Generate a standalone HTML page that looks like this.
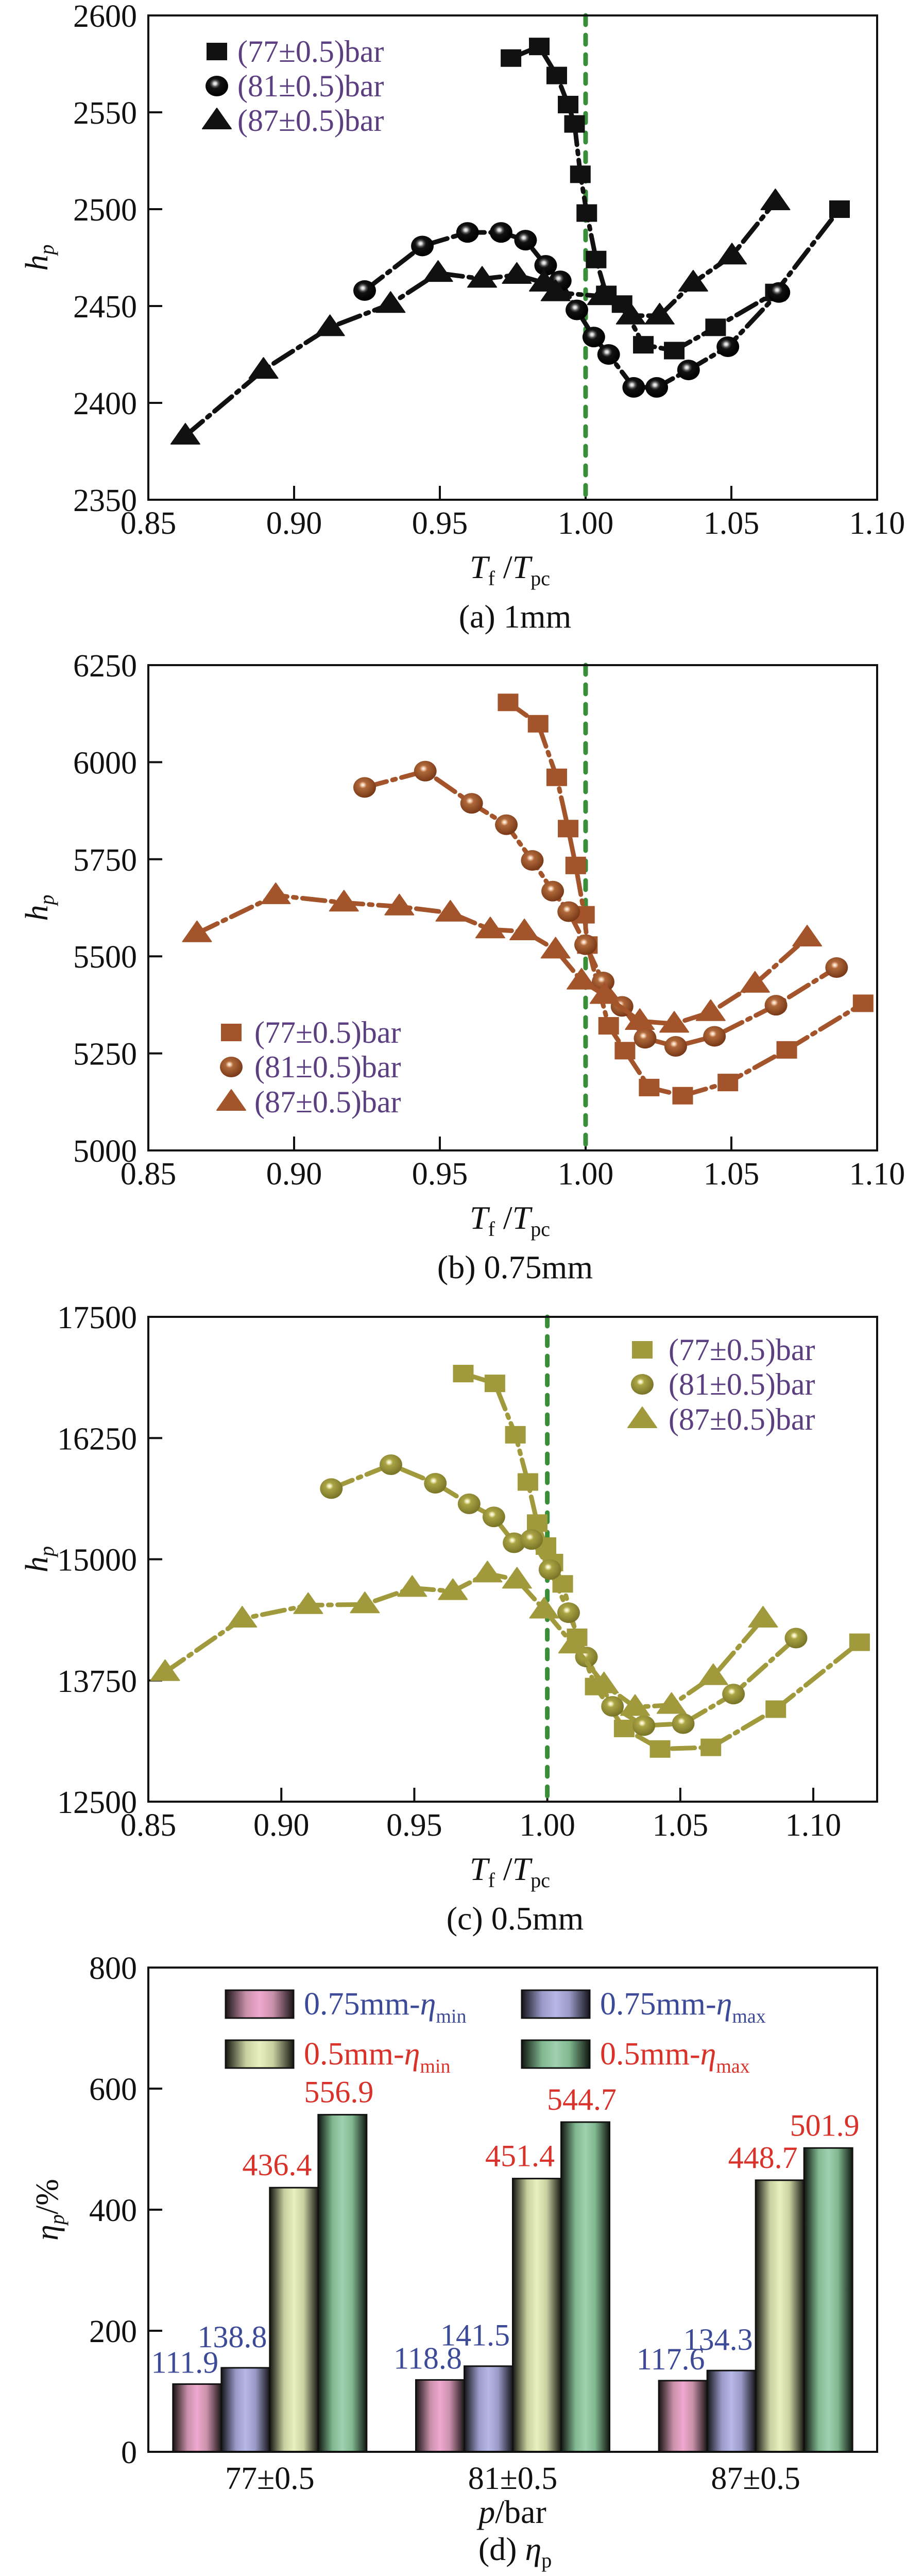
<!DOCTYPE html>
<html><head><meta charset="utf-8"><style>
html,body{margin:0;padding:0;background:#fff;width:1761px;height:5018px;overflow:hidden;}
svg{display:block;font-family:"Liberation Serif",serif;}
</style></head><body>
<svg id="fig" xmlns="http://www.w3.org/2000/svg" width="1761" height="5018" viewBox="0 0 1761 5018">
<defs>
<radialGradient id="ballK" cx="0.42" cy="0.38" r="0.6"><stop offset="0" stop-color="#fff"/><stop offset="0.12" stop-color="#ccc"/><stop offset="0.25" stop-color="#555"/><stop offset="0.4" stop-color="#111"/><stop offset="1" stop-color="#000"/></radialGradient>
<radialGradient id="ballB" cx="0.42" cy="0.38" r="0.6"><stop offset="0" stop-color="#fff"/><stop offset="0.12" stop-color="#f0c8a8"/><stop offset="0.28" stop-color="#b0683a"/><stop offset="1" stop-color="#7a3a18"/></radialGradient>
<radialGradient id="ballC" cx="0.42" cy="0.38" r="0.6"><stop offset="0" stop-color="#fff"/><stop offset="0.12" stop-color="#eee8b0"/><stop offset="0.28" stop-color="#aaa445"/><stop offset="1" stop-color="#7a7628"/></radialGradient>
<linearGradient id="gPink" x1="0" x2="1" y1="0" y2="0"><stop offset="0" stop-color="#1a1414"/><stop offset="0.3" stop-color="#c890aa"/><stop offset="0.5" stop-color="#f0a8d0"/><stop offset="0.7" stop-color="#c890aa"/><stop offset="1" stop-color="#1a1414"/></linearGradient>
<linearGradient id="gBlue" x1="0" x2="1" y1="0" y2="0"><stop offset="0" stop-color="#14141a"/><stop offset="0.3" stop-color="#9a9ac8"/><stop offset="0.5" stop-color="#b8b8e8"/><stop offset="0.7" stop-color="#9a9ac8"/><stop offset="1" stop-color="#14141a"/></linearGradient>
<linearGradient id="gYel" x1="0" x2="1" y1="0" y2="0"><stop offset="0" stop-color="#161610"/><stop offset="0.3" stop-color="#c8d0a0"/><stop offset="0.5" stop-color="#e8f0c0"/><stop offset="0.7" stop-color="#c8d0a0"/><stop offset="1" stop-color="#161610"/></linearGradient>
<linearGradient id="gGrn" x1="0" x2="1" y1="0" y2="0"><stop offset="0" stop-color="#101610"/><stop offset="0.3" stop-color="#80b890"/><stop offset="0.5" stop-color="#a0d0b0"/><stop offset="0.7" stop-color="#80b890"/><stop offset="1" stop-color="#101610"/></linearGradient>
</defs>
</svg>
<script>
// ---------- data: panel (a) 1mm ----------
const aX77 = [0.9744,0.9841,0.9901,0.9940,0.9962,0.9982,1.0004,1.0036,1.0071,1.0125,1.0198,1.0304,1.0446,1.0651,1.0871];
const aY77 = [2578,2584,2569,2554,2544,2518,2498,2474,2456,2451,2430,2427,2439,2457,2500];
const aX81 = [0.9242,0.9440,0.9595,0.9710,0.9794,0.9863,0.9913,0.9970,1.0028,1.0079,1.0165,1.0244,1.0353,1.0488,1.0663];
const aY81 = [2458,2481,2488,2488,2484,2471,2463,2448,2434,2425,2408,2408,2417,2429,2457];
const aX87 = [0.8627,0.8895,0.9123,0.9331,0.9494,0.9645,0.9764,0.9857,0.9897,1.0056,1.0155,1.0254,1.0369,1.0502,1.0651];
const aY87 = [2383,2417,2439,2451,2467,2464,2466,2462,2457,2455,2445,2445,2462,2476,2504];
// ---------- data: panel (b) 0.75mm ----------
const bX77 = [0.9734,0.9837,0.9901,0.9940,0.9966,0.9996,1.0006,1.0079,1.0135,1.0218,1.0333,1.0488,1.0690,1.0952];
const bY77 = [6154,6099,5961,5829,5734,5607,5529,5321,5257,5162,5141,5175,5259,5379];
const bX81 = [0.9242,0.9450,0.9609,0.9728,0.9817,0.9887,0.9942,1.0000,1.0060,1.0125,1.0204,1.0309,1.0442,1.0653,1.0861];
const bY81 = [5935,5977,5894,5839,5747,5668,5615,5530,5434,5371,5289,5268,5294,5374,5471];
const bX87 = [0.8667,0.8937,0.9171,0.9361,0.9536,0.9673,0.9790,0.9897,0.9986,1.0065,1.0186,1.0304,1.0429,1.0581,1.0760];
const bY87 = [5559,5657,5638,5628,5612,5569,5564,5517,5437,5400,5333,5326,5356,5429,5548];
// ---------- data: panel (c) 0.5mm ----------
const cX77 = [0.9684,0.9803,0.9880,0.9927,0.9962,0.9995,1.0021,1.0058,1.0112,1.0180,1.0289,1.0424,1.0615,1.0859,1.1174];
const cY77 = [16915,16814,16284,15797,15373,15136,14966,14746,14195,13687,13255,13043,13060,13454,14144];
const cX81 = [0.9188,0.9412,0.9579,0.9706,0.9799,0.9875,0.9941,1.0010,1.0080,1.0147,1.0245,1.0363,1.0511,1.0700,1.0935];
const cY81 = [15729,15975,15784,15572,15437,15170,15204,14894,14449,13992,13483,13284,13305,13610,14187];
const cX87 = [0.8563,0.8853,0.9101,0.9314,0.9492,0.9645,0.9775,0.9886,0.9988,1.0097,1.0213,1.0330,1.0467,1.0624,1.0811];
const cY87 = [13835,14386,14526,14534,14703,14670,14852,14788,14479,14119,13708,13475,13496,13793,14386];
const xTickLabels = ["0.85","0.90","0.95","1.00","1.05","1.10"];
const aYTicks = [2350,2400,2450,2500,2550,2600];
const bYTicks = [5000,5250,5500,5750,6000,6250];
const cYTicks = [12500,13750,15000,16250,17500];
const seriesNames = ["(77\u00b10.5)bar","(81\u00b10.5)bar","(87\u00b10.5)bar"];
// ---------- data: panel (d) efficiency ----------
const dCategories = ["77\u00b10.5","81\u00b10.5","87\u00b10.5"];
const dMin075 = [111.9,118.8,117.6];
const dMax075 = [138.8,141.5,134.3];
const dMin05 = [436.4,451.4,448.7];
const dMax05 = [556.9,544.7,501.9];
const dYTicks = [0,200,400,600,800];

const NS = "http://www.w3.org/2000/svg";
const svg = document.getElementById('fig');
function mk(tag, attrs, parent, text){
  const e = document.createElementNS(NS, tag);
  for (const k in attrs) e.setAttribute(k, attrs[k]);
  if (text !== undefined) e.textContent = text;
  (parent||svg).appendChild(e);
  return e;
}
const FS = 62;

function linePanel(cfg){
  const g = mk('g', {});
  
  
  const L=288,R=1703,T=cfg.top,B=cfg.bottom;
  const sx = v => L + (v-0.85)/(cfg.xmax-0.85)*(R-L);
  const sy = v => B - (v-cfg.ymin)/(cfg.ymax-cfg.ymin)*(B-T);
  xTickLabels.forEach(t=>{
    const x = sx(parseFloat(t));
    if (x>L+2 && x<R-2){ const tk=mk('line',{x1:x,x2:x,y1:B,y2:B-27,stroke:'#111','stroke-width':4},g);
        }
    const tl = mk('text',{x:x,y:B+66,'font-size':FS,'text-anchor':'middle',fill:'#111'},g,t);
     
  });
  cfg.yticks.forEach(v=>{
    const y = sy(v);
    if (y>T+2 && y<B-2){ const tk=mk('line',{x1:L,x2:L+27,y1:y,y2:y,stroke:'#111','stroke-width':4},g);
        }
    const tl = mk('text',{x:L-22,y:y+22,'font-size':FS,'text-anchor':'end',fill:'#111'},g,String(v));
     
  });
  const ref = mk('line',{x1:sx(1.0),x2:sx(1.0),y1:T,y2:B,stroke:'#3a8e3a','stroke-width':9,'stroke-dasharray':'18 20','stroke-linecap':'round'},g);
  
  
  const sets = [[cfg.x77,cfg.y77,'sq'],[cfg.x81,cfg.y81,'ci'],[cfg.x87,cfg.y87,'tr']];
  const drawMarker = (type,x,y,parent)=>{
    let m;
    if (type==='sq') m = mk('rect',{x:x-20,y:y-17,width:40,height:34,fill:cfg.color},parent);
    else if (type==='ci') m = mk('ellipse',{cx:x,cy:y,rx:22,ry:20,fill:cfg.ball},parent);
    else m = mk('polygon',{points:`${x},${y-24} ${x+28},${y+16} ${x-28},${y+16}`,fill:cfg.color,'stroke':cfg.color,'stroke-width':2,'stroke-linejoin':'round'},parent);
    return m;
  };
  sets.forEach((s,i)=>{
    const sg = mk('g',{},g);
    
    
    const pts = s[0].map((xv,j)=>sx(xv)+','+sy(s[1][j])).join(' ');
    const pl = mk('polyline',{points:pts,fill:'none',stroke:cfg.color,'stroke-width':9,'stroke-dasharray':'44 12 6 12','stroke-linecap':'round','stroke-linejoin':'round'},sg);
    
    
    s[0].forEach((xv,j)=>{
      const m = drawMarker(s[2],sx(xv),sy(s[1][j]),sg);
      
      
    });
  });
  const fr = mk('rect',{x:L,y:T,width:R-L,height:B-T,fill:'none',stroke:'#111','stroke-width':4},g);
  
  
  const lg = mk('g',{},g);
  
  
  ['sq','ci','tr'].forEach((t,i)=>{
    const y = cfg.leg.rows[i];
    const m = drawMarker(t,cfg.leg.mx,y,lg);
    
    
    const tx = mk('text',{x:cfg.leg.tx,y:y+20,'font-size':60,fill:'#5b3f80'},lg,seriesNames[i]);
    
    
  });
  const yl = mk('text',{x:0,y:0,'font-size':62,'font-style':'italic',fill:'#111',transform:`translate(92,${(T+B)/2}) rotate(-90)`,'text-anchor':'middle'},g);
  
  
  mk('tspan',{},yl,'h');
  mk('tspan',{'font-size':40,dy:12},yl,'p');
  const xl = mk('text',{x:990,y:B+152,'font-size':64,'text-anchor':'middle',fill:'#111'},g);
  
  
  mk('tspan',{'font-style':'italic'},xl,'T');
  mk('tspan',{'font-size':40,dy:14},xl,'f');
  mk('tspan',{dy:-14},xl,' /');
  mk('tspan',{'font-style':'italic'},xl,'T');
  mk('tspan',{'font-size':40,dy:14},xl,'pc');
  const cap = mk('text',{x:1000,y:B+248,'font-size':64,'text-anchor':'middle',fill:'#111'},g,cfg.caption);
  
  
}

linePanel({name:'panel-a-1mm',top:30,bottom:970,xmax:1.10,ymin:2350,ymax:2600,yticks:aYTicks,
  x77:aX77,y77:aY77,x81:aX81,y81:aY81,x87:aX87,y87:aY87,color:'#111',ball:'url(#ballK)',
  leg:{mx:421,tx:461,rows:[100,167,234]},caption:'(a) 1mm'});
linePanel({name:'panel-b-075mm',top:1291,bottom:2233,xmax:1.10,ymin:5000,ymax:6250,yticks:bYTicks,
  x77:bX77,y77:bY77,x81:bX81,y81:bY81,x87:bX87,y87:bY87,color:'#a4542a',ball:'url(#ballB)',
  leg:{mx:449,tx:494,rows:[2004,2071,2139]},caption:'(b) 0.75mm'});
linePanel({name:'panel-c-05mm',top:2556,bottom:3497,xmax:1.124,ymin:12500,ymax:17500,yticks:cYTicks,
  x77:cX77,y77:cY77,x81:cX81,y81:cY81,x87:cX87,y87:cY87,color:'#a09a3c',ball:'url(#ballC)',
  leg:{mx:1247,tx:1298,rows:[2620,2687,2755]},caption:'(c) 0.5mm'});

(function(){
  const g = mk('g',{});
  
  
  const L=288,R=1703,T=3819,B=4759;
  const sy = v => B - v/800*(B-T);
  const groupW = (R-L)/dCategories.length;
  const gx = i => L + groupW*(i+0.5);
  const bw = 94;
  dYTicks.forEach(v=>{
    const y=sy(v);
    if (y>T+2 && y<B-2){ const tk=mk('line',{x1:L,x2:L+27,y1:y,y2:y,stroke:'#111','stroke-width':4},g);
        }
    const tl=mk('text',{x:L-22,y:y+22,'font-size':FS,'text-anchor':'end',fill:'#111'},g,String(v));
     
  });
  const series = [[dMin075,'url(#gPink)','#3d4a98',-24,-44],[dMax075,'url(#gBlue)','#3d4a98',-26,-62],
                  [dMin05,'url(#gYel)','#d8322a',-33,-46],[dMax05,'url(#gGrn)','#d8322a',-7,-46]];
  const names = ['bar-075mm-min','bar-075mm-max','bar-05mm-min','bar-05mm-max'];
  dCategories.forEach((c,i)=>{
    series.forEach((s,k)=>{
      const x = gx(i) - 2*bw + k*bw;
      const v = s[0][i];
      const r = mk('rect',{x:x,y:sy(v),width:bw,height:B-sy(v),fill:s[1],stroke:'#111','stroke-width':3},g);
      
      
      const t = mk('text',{x:x+bw/2+s[3],y:sy(v)+s[4]+22,'font-size':60,'text-anchor':'middle',fill:s[2]},g,v.toFixed(1));
      
      
    });
    const cl = mk('text',{x:gx(i),y:B+72,'font-size':FS,'text-anchor':'middle',fill:'#111'},g,c);
    
    
  });
  const fr = mk('rect',{x:L,y:T,width:R-L,height:B-T,fill:'none',stroke:'#111','stroke-width':4},g);
  
  
  const lg = mk('g',{},g);
  
  
  const legs = [[438,3863,'url(#gPink)','#3d4a98','0.75mm-','min'],[1013,3863,'url(#gBlue)','#3d4a98','0.75mm-','max'],
                [438,3960,'url(#gYel)','#d8322a','0.5mm-','min'],[1013,3960,'url(#gGrn)','#d8322a','0.5mm-','max']];
  legs.forEach(l=>{
    const b = mk('rect',{x:l[0],y:l[1],width:132,height:54,fill:l[2],stroke:'#111','stroke-width':3},lg);
    
    
    const t = mk('text',{x:l[0]+152,y:l[1]+47,'font-size':62,fill:l[3]},lg);
    
    
    mk('tspan',{},t,l[4]);
    mk('tspan',{'font-style':'italic'},t,'\u03b7');
    mk('tspan',{'font-size':38,dy:16},t,l[5]);
  });
  const yl = mk('text',{x:0,y:0,'font-size':62,fill:'#111',transform:`translate(112,${(T+B)/2}) rotate(-90)`,'text-anchor':'middle'},g);
  
  
  mk('tspan',{'font-style':'italic'},yl,'\u03b7');
  mk('tspan',{'font-size':40,dy:12,'font-style':'italic'},yl,'p');
  mk('tspan',{dy:-12},yl,'/%');
  const xl = mk('text',{x:995,y:B+138,'font-size':64,'text-anchor':'middle',fill:'#111'},g);
  
  
  mk('tspan',{'font-style':'italic'},xl,'p');
  mk('tspan',{},xl,'/bar');
  const cap = mk('text',{x:1000,y:B+210,'font-size':64,'text-anchor':'middle',fill:'#111'},g);
  
  
  mk('tspan',{},cap,'(d) ');
  mk('tspan',{'font-style':'italic'},cap,'\u03b7');
  mk('tspan',{'font-size':40,dy:14},cap,'p');
})();
</script>
</body></html>
